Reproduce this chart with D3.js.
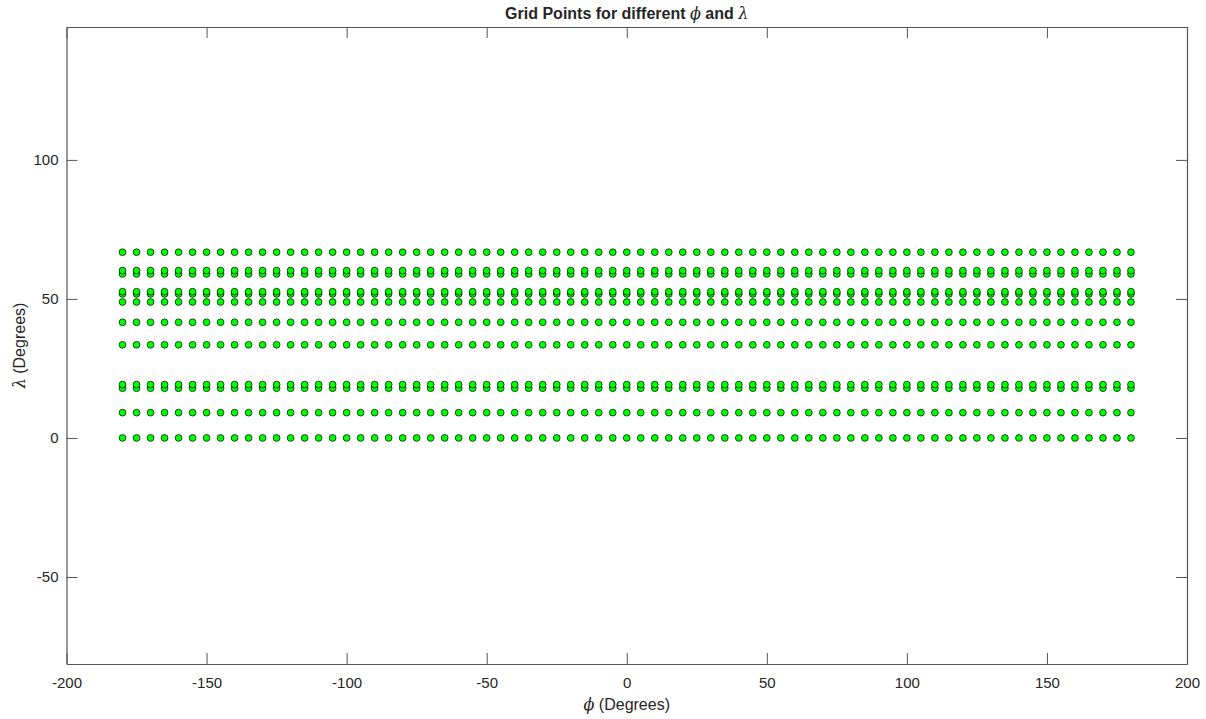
<!DOCTYPE html>
<html>
<head>
<meta charset="utf-8">
<script src="https://cdn.jsdelivr.net/npm/d3@7"></script>
<style>
  body { margin: 0; background: #fff; }
  text { font-family: "Liberation Sans", Arial, sans-serif; fill: #262626; }
</style>
</head>
<body>
<svg id="chart" width="1206" height="719"></svg>
<script>
// phi values: -180 to 180 every 5 degrees
const phiValues = [-180,-175,-170,-165,-160,-155,-150,-145,-140,-135,-130,-125,-120,-115,-110,-105,
  -100,-95,-90,-85,-80,-75,-70,-65,-60,-55,-50,-45,-40,-35,-30,-25,-20,-15,-10,-5,
  0,5,10,15,20,25,30,35,40,45,50,55,60,65,70,75,80,85,90,95,100,105,110,115,120,125,
  130,135,140,145,150,155,160,165,170,175,180];
// lambda rows
const lambdaValues = [0, 9.1, 17.9, 19.2, 33.5, 41.6, 48.9, 51.8, 52.6, 59.0, 60.2, 66.8];
const xTicks = [-200, -150, -100, -50, 0, 50, 100, 150, 200];
const yTicks = [-50, 0, 50, 100];

const svg = d3.select("#chart");
const margin = { top: 27, right: 19, bottom: 55, left: 66.5 };
const width = 1206 - margin.left - margin.right;
const height = 719 - margin.top - margin.bottom;

const x = d3.scaleLinear().domain([-200, 200]).range([0, width]);
const y = d3.scaleLinear().domain([-81.3, 147.8]).range([height, 0]);

const g = svg.append("g").attr("transform", `translate(${margin.left},${margin.top})`);

const points = [];
lambdaValues.forEach(l => phiValues.forEach(p => points.push({ phi: p, lambda: l })));

//scatter points
g.selectAll("circle")
  .data(points)
  .enter()
  .append("circle")
  .attr("cx", d => x(d.phi))
  .attr("cy", d => y(d.lambda))
  .attr("r", 3.4)
  .attr("fill", "#00ff00")
  .attr("stroke", "#000")
  .attr("stroke-width", 0.7);

const axisColor = "#555";
const fmt = d => String(d); // plain hyphen minus like MATLAB

//bottom and top axes (ticks inside)
const xb = g.append("g")
  .attr("transform", `translate(0,${height})`)
  .call(d3.axisBottom(x).tickValues(xTicks).tickFormat(fmt).tickSizeInner(-11).tickSizeOuter(0).tickPadding(13));
const xt = g.append("g")
  .call(d3.axisTop(x).tickValues(xTicks).tickSizeInner(-11).tickSizeOuter(0).tickFormat(""));
//left and right axes
const yl = g.append("g")
  .call(d3.axisLeft(y).tickValues(yTicks).tickFormat(fmt).tickSizeInner(-11).tickSizeOuter(0).tickPadding(8));
const yr = g.append("g")
  .attr("transform", `translate(${width},0)`)
  .call(d3.axisRight(y).tickValues(yTicks).tickSizeInner(-11).tickSizeOuter(0).tickFormat(""));

[xb, xt, yl, yr].forEach(a => {
  a.select(".domain").attr("stroke", axisColor).attr("stroke-width", 1.2);
  a.selectAll(".tick line").attr("stroke", axisColor).attr("stroke-width", 1);
  a.selectAll(".tick text").style("font-size", "15px").attr("fill", "#262626")
    .style("font-family", "'Liberation Sans', Arial, sans-serif");
});

//x label
svg.append("text")
  .attr("x", margin.left + width / 2)
  .attr("y", 710)
  .attr("text-anchor", "middle")
  .style("font-size", "16px")
  .html('<tspan font-style="italic" font-family="DejaVu Serif">\u03D5</tspan> (Degrees)');

//y label
svg.append("text")
  .attr("transform", `translate(25,${margin.top + height / 2}) rotate(-90)`)
  .attr("text-anchor", "middle")
  .style("font-size", "16px")
  .html('<tspan font-style="italic" font-family="DejaVu Serif">\u03BB</tspan> (Degrees)');

//title
svg.append("text")
  .attr("x", margin.left + width / 2)
  .attr("y", 19)
  .attr("text-anchor", "middle")
  .style("font-size", "16px")
  .style("font-weight", "bold")
  .attr("fill", "#000")
  .html('Grid Points for different <tspan font-style="italic" font-weight="normal" font-family="DejaVu Serif">\u03D5</tspan> and <tspan font-style="italic" font-weight="normal" font-family="DejaVu Serif">\u03BB</tspan>');
</script>
</body>
</html>
